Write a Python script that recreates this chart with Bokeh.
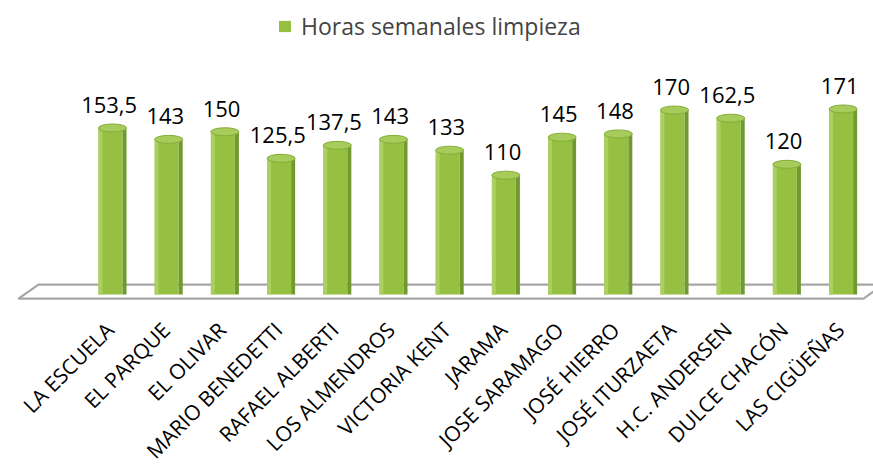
import math
from bokeh.plotting import figure
from bokeh.models import ColumnDataSource, Range1d, Legend, LegendItem
from bokeh.core.properties import value
from bokeh.embed import file_html
from bokeh.resources import INLINE

# ---------------- data ----------------
categories = ["LA ESCUELA", "EL PARQUE", "EL OLIVAR", "MARIO BENEDETTI",
              "RAFAEL ALBERTI", "LOS ALMENDROS", "VICTORIA KENT", "JARAMA",
              "JOSE SARAMAGO", "JOSÉ HIERRO", "JOSÉ ITURZAETA", "H.C. ANDERSEN",
              "DULCE CHACÓN", "LAS CIGÜEÑAS"]
values = [153.5, 143, 150, 125.5, 137.5, 143, 133, 110, 145, 148, 170, 162.5, 120, 171]
value_labels = ["153,5", "143", "150", "125,5", "137,5", "143", "133", "110",
                "145", "148", "170", "162,5", "120", "171"]
series_name = "Horas semanales limpieza"

# ---------------- style / layout ----------------
FONT = "Open Sans"
W, H = 873, 476
n = len(categories)
idx = list(range(n))

FRONT_W = 0.427
SIDE_W = 0.071
CAT_LABEL_Y = -29.0     # data-y where category labels are anchored

src = ColumnDataSource(dict(
    front_x=[i - 0.036 for i in idx],
    side_x=[i + 0.214 for i in idx],
    hl_x=[i - 0.036 - FRONT_W / 2 + 0.035 for i in idx],
    cap_x=[i for i in idx],
    lab_x=[i - 0.06 for i in idx],
    cat_x=[i - 0.05 for i in idx],
    cat_y=[CAT_LABEL_Y] * n,
    cat=categories,
    val=values, lab=value_labels))

p = figure(width=W, height=H, output_backend="svg", toolbar_location=None,
           x_range=Range1d(-1.993, 13.541), y_range=Range1d(-167.7, 270.97),
           x_axis_type=None, y_axis_type=None, min_border=0)
p.outline_line_color = None
p.background_fill_color = "white"
p.border_fill_color = "white"
p.grid.visible = False

# floor (3D base plane)
p.patch(x=[-1.317, -1.673, n - 1 + 0.363, n - 1 + 0.72],
        y=[9.2, -3.7, -3.7, 9.2],
        fill_color="white", line_color="#a6a6a6", line_width=2.2)

# bars: front face, highlight, side face, cap
front = p.vbar(x="front_x", width=FRONT_W, top="val", bottom=0, source=src,
               fill_color="#96c041", line_color=None)
p.vbar(x="hl_x", width=0.07, top="val", bottom=0, source=src,
       fill_color="#abcf60", line_color=None)
p.vbar(x="side_x", width=SIDE_W, top="val", bottom=0, source=src,
       fill_color="#709a30", line_color=None)
p.ellipse(x="cap_x", y="val", width=0.5, height=8, height_units="screen",
          source=src, fill_color="#a8cc5c", line_color="#85ad3a", line_width=1)

# value labels
p.text(x="lab_x", y="val", text="lab", source=src, y_offset=-23,
       text_align="center", text_baseline="alphabetic",
       text_font=value(FONT), text_font_size="22px", text_color="#000000")

# category labels (rotated 45 degrees, ending under each bar)
p.text(x="cat_x", y="cat_y", text="cat", source=src, angle=math.pi / 4,
       text_align="right", text_baseline="middle",
       text_font=value(FONT), text_font_size="21px", text_color="#000000")

legend = Legend(items=[LegendItem(label=series_name, renderers=[front])],
                location=(277, 434), orientation="horizontal",
                border_line_color=None, background_fill_alpha=0,
                label_text_font=FONT, label_text_font_size="23px",
                glyph_width=15, glyph_height=14, label_standoff=9,
                padding=0, margin=0)
p.add_layout(legend)

open("out.html", "w").write(file_html(p, INLINE))
